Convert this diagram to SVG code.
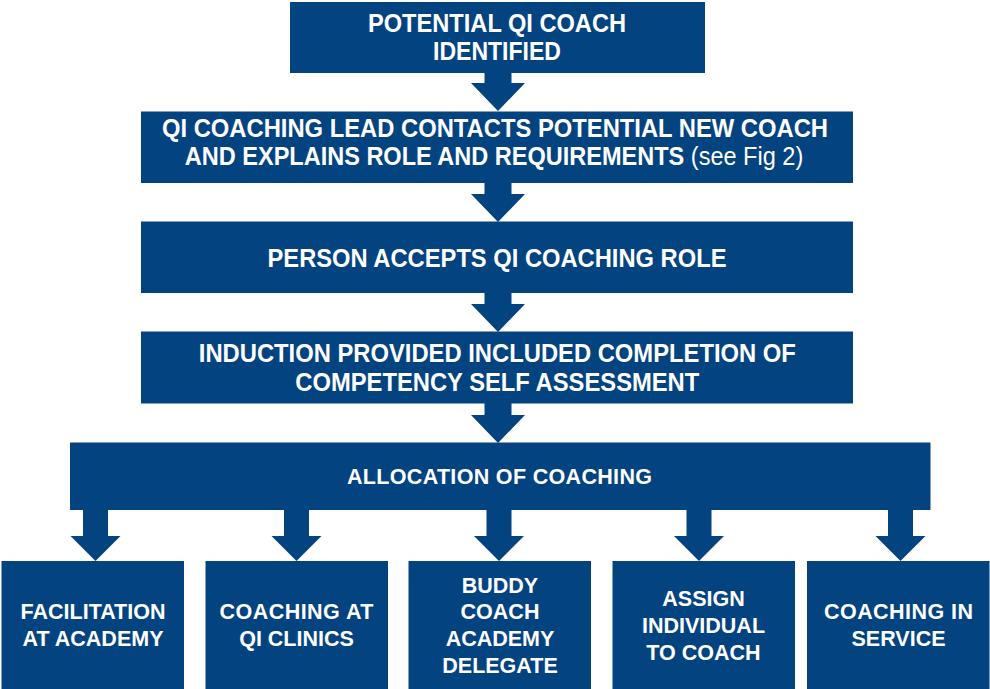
<svg xmlns="http://www.w3.org/2000/svg" width="990" height="689" viewBox="0 0 990 689">
<style>
.box{fill:#03437f}
.arr{fill:#03437f}
.t{font-family:"Liberation Sans",Arial,sans-serif;font-weight:bold;fill:#ffffff;text-anchor:middle}
.big{font-size:25.5px}
.sm{font-size:21.5px}
.n{font-weight:normal}
</style>
<rect width="990" height="689" fill="#ffffff"/>
<g id="connectors">
<polygon class="arr" points="484.5,72 511.5,72 511.5,83 525,83 498,111 471,83 484.5,83"/>
<polygon class="arr" points="484.5,183 511.5,183 511.5,194 525,194 498,222 471,194 484.5,194"/>
<polygon class="arr" points="484.5,293 511.5,293 511.5,304 525,304 498,332 471,304 484.5,304"/>
<polygon class="arr" points="484.5,403 511.5,403 511.5,415 525,415 498,443 471,415 484.5,415"/>
<polygon class="arr" points="83,510 108,510 108,536 120.5,536 95.5,561 70.5,536 83,536"/>
<polygon class="arr" points="284,510 309,510 309,536 321.5,536 296.5,561 271.5,536 284,536"/>
<polygon class="arr" points="486.5,510 511.5,510 511.5,536 524,536 499,561 474,536 486.5,536"/>
<polygon class="arr" points="686.5,510 711.5,510 711.5,536 724,536 699,561 674,536 686.5,536"/>
<polygon class="arr" points="888,510 913,510 913,536 925.5,536 900.5,561 875.5,536 888,536"/>
</g>
<g id="n1">
<rect class="box" x="290" y="2" width="415" height="71"/>
<text class="t big" x="497" y="31.5" textLength="258" lengthAdjust="spacingAndGlyphs">POTENTIAL QI COACH</text>
<text class="t big" x="497" y="60" textLength="128" lengthAdjust="spacingAndGlyphs">IDENTIFIED</text>
</g>
<g id="n2">
<rect class="box" x="141" y="111.5" width="712" height="71.5"/>
<text class="t big" x="495" y="136.5" textLength="666" lengthAdjust="spacingAndGlyphs">QI COACHING LEAD CONTACTS POTENTIAL NEW COACH</text>
<text class="t big" x="0" y="0" transform="translate(494,165) scale(0.923,1)">AND EXPLAINS ROLE AND REQUIREMENTS <tspan class="n">(see Fig 2)</tspan></text>
</g>
<g id="n3">
<rect class="box" x="141" y="221.5" width="712" height="71.5"/>
<text class="t big" x="497" y="267.3" textLength="459" lengthAdjust="spacingAndGlyphs">PERSON ACCEPTS QI COACHING ROLE</text>
</g>
<g id="n4">
<rect class="box" x="141" y="331.5" width="712" height="72"/>
<text class="t big" x="497.3" y="362.3" textLength="597" lengthAdjust="spacingAndGlyphs">INDUCTION PROVIDED INCLUDED COMPLETION OF</text>
<text class="t big" x="497.3" y="390.7" textLength="404" lengthAdjust="spacingAndGlyphs">COMPETENCY SELF ASSESSMENT</text>
</g>
<g id="n5">
<rect class="box" x="70" y="442.5" width="860.5" height="67.5"/>
<text class="t sm" x="499.5" y="484.3" textLength="305" lengthAdjust="spacing">ALLOCATION OF COACHING</text>
</g>
<g id="n6">
<rect class="box" x="1.5" y="561" width="182.5" height="128"/>
<text class="t sm" x="93" y="619">FACILITATION</text>
<text class="t sm" x="93" y="645.5">AT ACADEMY</text>
</g>
<g id="n7">
<rect class="box" x="205.5" y="561" width="182.5" height="128"/>
<text class="t sm" x="296.5" y="619" textLength="154" lengthAdjust="spacing">COACHING AT</text>
<text class="t sm" x="296.5" y="645.5">QI CLINICS</text>
</g>
<g id="n8">
<rect class="box" x="408.5" y="561" width="182.5" height="128"/>
<text class="t sm" x="500" y="592.5">BUDDY</text>
<text class="t sm" x="500" y="619">COACH</text>
<text class="t sm" x="500" y="645.5">ACADEMY</text>
<text class="t sm" x="500" y="672.5">DELEGATE</text>
</g>
<g id="n9">
<rect class="box" x="612.5" y="561" width="182.5" height="128"/>
<text class="t sm" x="703.5" y="605.8">ASSIGN</text>
<text class="t sm" x="703.5" y="633.3">INDIVIDUAL</text>
<text class="t sm" x="703.5" y="659.5">TO COACH</text>
</g>
<g id="n10">
<rect class="box" x="807" y="561" width="182.5" height="128"/>
<text class="t sm" x="898.5" y="619" textLength="149" lengthAdjust="spacing">COACHING IN</text>
<text class="t sm" x="898.5" y="646">SERVICE</text>
</g>
</svg>
